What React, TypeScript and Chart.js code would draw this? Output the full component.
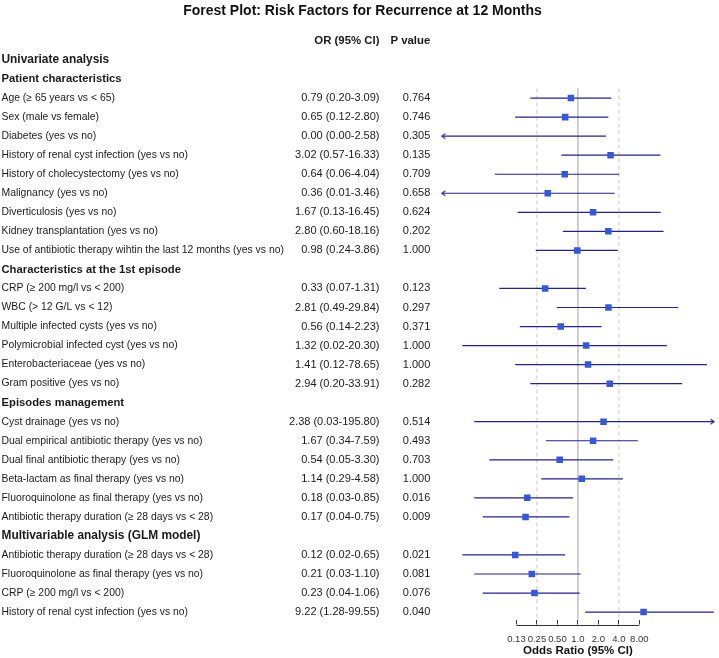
import { useEffect, useRef } from "react";
import { Chart, registerables } from "chart.js";

Chart.register(...registerables);

const TITLE = "Forest Plot: Risk Factors for Recurrence at 12 Months";
const X_TITLE = "Odds Ratio (95% CI)";
const COLUMN_HEADERS = ["OR (95% CI)", "P value"];

const ROW_LABELS = [
  "Univariate analysis",
  "Patient characteristics",
  "Age (≥ 65 years vs < 65)",
  "Sex (male vs female)",
  "Diabetes (yes vs no)",
  "History of renal cyst infection (yes vs no)",
  "History of cholecystectomy (yes vs no)",
  "Malignancy (yes vs no)",
  "Diverticulosis (yes vs no)",
  "Kidney transplantation (yes vs no)",
  "Use of antibiotic therapy wihtin the last 12 months (yes vs no)",
  "Characteristics at the 1st episode",
  "CRP (≥ 200 mg/l vs < 200)",
  "WBC (> 12 G/L vs < 12)",
  "Multiple infected cysts (yes vs no)",
  "Polymicrobial infected cyst (yes vs no)",
  "Enterobacteriaceae (yes vs no)",
  "Gram positive (yes vs no)",
  "Episodes management",
  "Cyst drainage (yes vs no)",
  "Dual empirical antibiotic therapy (yes vs no)",
  "Dual final antibiotic therapy (yes vs no)",
  "Beta-lactam as final therapy (yes vs no)",
  "Fluoroquinolone as final therapy (yes vs no)",
  "Antibiotic therapy duration (≥ 28 days vs < 28)",
  "Multivariable analysis (GLM model)",
  "Antibiotic therapy duration (≥ 28 days vs < 28)",
  "Fluoroquinolone as final therapy (yes vs no)",
  "CRP (≥ 200 mg/l vs < 200)",
  "History of renal cyst infection (yes vs no)",
];

// 0 = regular row, 1 = top-level section, 2 = sub-section
const ROW_LEVEL = [
  1, 2, 0, 0, 0, 0, 0, 0, 0, 0, 0,
  2, 0, 0, 0, 0, 0, 0,
  2, 0, 0, 0, 0, 0, 0,
  1, 0, 0, 0, 0,
];

// null = section header row
const ODDS_RATIOS: (number | null)[] = [
  null, null,
  0.79, 0.65, 0.0, 3.02, 0.64, 0.36, 1.67, 2.8, 0.98,
  null,
  0.33, 2.81, 0.56, 1.32, 1.41, 2.94,
  null,
  2.38, 1.67, 0.54, 1.14, 0.18, 0.17,
  null,
  0.12, 0.21, 0.23, 9.22,
];
const CI_LOWER: (number | null)[] = [
  null, null,
  0.2, 0.12, 0.0, 0.57, 0.06, 0.01, 0.13, 0.6, 0.24,
  null,
  0.07, 0.49, 0.14, 0.02, 0.12, 0.2,
  null,
  0.03, 0.34, 0.05, 0.29, 0.03, 0.04,
  null,
  0.02, 0.03, 0.04, 1.28,
];
const CI_UPPER: (number | null)[] = [
  null, null,
  3.09, 2.8, 2.58, 16.33, 4.04, 3.46, 16.45, 18.16, 3.86,
  null,
  1.31, 29.84, 2.23, 20.3, 78.65, 33.91,
  null,
  195.8, 7.59, 3.3, 4.58, 0.85, 0.75,
  null,
  0.65, 1.1, 1.06, 99.55,
];
const P_VALUES: (number | null)[] = [
  null, null,
  0.764, 0.746, 0.305, 0.135, 0.709, 0.658, 0.624, 0.202, 1.0,
  null,
  0.123, 0.297, 0.371, 1.0, 1.0, 0.282,
  null,
  0.514, 0.493, 0.703, 1.0, 0.016, 0.009,
  null,
  0.021, 0.081, 0.076, 0.04,
];

const TICK_VALUES = [0.125, 0.25, 0.5, 1, 2, 4, 8];
const TICK_LABELS = ["0.13", "0.25", "0.50", "1.0", "2.0", "4.0", "8.00"];
const REFERENCE_SOLID = [1];
const REFERENCE_DASHED = [0.25, 4];
const X_MIN = 0.01;
const X_MAX = 100;

// layout constants
const W = 719;
const H = 658;
const FONT = "'Liberation Sans', Arial, Helvetica, sans-serif";
const TEXT_COLOR = "#1a1a1a";
const BOX_COLOR = "#3457DC";
const CI_COLOR = "#23238C";
const REF_COLOR = "#c8c8c8";
const AXIS_COLOR = "#333333";
const LABEL_X = 1.5;
const OR_COL_X = 379.5;
const P_COL_X = 430.3;
const Y_AXIS_WIDTH = 433.6;
const X_AXIS_HEIGHT = 38.5;
const TICK_LEN = 5;
const Y_MIN = -1.06;
const Y_MAX = 30.39;
const REF_TOP = 2.5;

const LEVEL_FONT = [`10.4px ${FONT}`, `bold 11.9px ${FONT}`, `bold 11.25px ${FONT}`];

const fmt2 = (v: number) => v.toFixed(2);

function makeArrowImage(): HTMLCanvasElement {
  const c = document.createElement("canvas");
  c.width = 10;
  c.height = 9;
  const g = c.getContext("2d")!;
  g.strokeStyle = CI_COLOR;
  g.lineWidth = 1.1;
  g.beginPath();
  g.moveTo(8.5, 2);
  g.lineTo(5, 4.5);
  g.lineTo(8.5, 7);
  g.stroke();
  return c;
}

const tablePlugin = {
  id: "forestTable",
  afterDraw(chart: any) {
    const ctx = chart.ctx as CanvasRenderingContext2D;
    const ys = chart.scales.y;
    const xs = chart.scales.x;
    ctx.save();
    ctx.textBaseline = "middle";
    ctx.fillStyle = TEXT_COLOR;

    ctx.font = `bold 11.4px ${FONT}`;
    ctx.textAlign = "right";
    const hy = ys.getPixelForValue(0);
    ctx.fillText(COLUMN_HEADERS[0], OR_COL_X, hy);
    ctx.fillText(COLUMN_HEADERS[1], P_COL_X, hy);

    ROW_LABELS.forEach((label, k) => {
      const py = ys.getPixelForValue(k + 1);
      const or = ODDS_RATIOS[k];
      ctx.textAlign = "left";
      ctx.font = LEVEL_FONT[ROW_LEVEL[k]];
      ctx.fillText(label, LABEL_X, py);
      if (or !== null) {
        ctx.textAlign = "right";
        ctx.font = `11px ${FONT}`;
        const txt = `${fmt2(or)} (${fmt2(CI_LOWER[k] as number)}-${fmt2(CI_UPPER[k] as number)})`;
        ctx.fillText(txt, OR_COL_X, py);
        ctx.fillText((P_VALUES[k] as number).toFixed(3), P_COL_X, py);
      }
    });

    // x axis line spanning the tick range
    const ay = Math.round(chart.chartArea.bottom + TICK_LEN) + 0.5;
    ctx.strokeStyle = AXIS_COLOR;
    ctx.lineWidth = 1;
    ctx.beginPath();
    ctx.moveTo(xs.getPixelForValue(TICK_VALUES[0]), ay);
    ctx.lineTo(xs.getPixelForValue(TICK_VALUES[TICK_VALUES.length - 1]), ay);
    ctx.stroke();
    ctx.restore();
  },
};

export default function App() {
  const canvasRef = useRef<HTMLCanvasElement | null>(null);

  useEffect(() => {
    const canvas = canvasRef.current;
    if (!canvas) return;
    const arrow = makeArrowImage();

    const boxes: any[] = [];
    const ciSegments: any[] = [];
    const leftArrows: any[] = [];
    const rightArrows: any[] = [];
    ODDS_RATIOS.forEach((or, k) => {
      if (or === null) return;
      const row = k + 1;
      const lo = CI_LOWER[k] as number;
      const hi = CI_UPPER[k] as number;
      if (or > 0) boxes.push({ x: or, y: row });
      ciSegments.push({ x: Math.max(lo, X_MIN), y: row });
      ciSegments.push({ x: Math.min(hi, X_MAX), y: row });
      ciSegments.push({ x: NaN, y: NaN });
      if (lo <= X_MIN) leftArrows.push({ x: X_MIN, y: row });
      if (hi >= X_MAX) rightArrows.push({ x: X_MAX, y: row });
    });

    const refLine = (vals: number[]) => {
      const out: any[] = [];
      vals.forEach((v) => {
        out.push({ x: v, y: REF_TOP });
        out.push({ x: v, y: Y_MAX });
        out.push({ x: NaN, y: NaN });
      });
      return out;
    };

    Chart.defaults.font.family = FONT;

    const chart = new Chart(canvas, {
      type: "scatter",
      data: {
        datasets: [
          {
            label: "OR",
            data: boxes,
            pointStyle: "rect",
            pointRadius: 4.6,
            pointBackgroundColor: BOX_COLOR,
            pointBorderColor: BOX_COLOR,
            pointBorderWidth: 0,
            showLine: false,
          },
          {
            label: "left arrows",
            data: leftArrows,
            pointStyle: arrow,
            rotation: 0,
            showLine: false,
            clip: false,
          },
          {
            label: "right arrows",
            data: rightArrows,
            pointStyle: arrow,
            rotation: 180,
            showLine: false,
            clip: false,
          },
          {
            label: "CI",
            data: ciSegments,
            showLine: true,
            spanGaps: false,
            borderColor: CI_COLOR,
            borderWidth: 1.2,
            pointRadius: 0,
          },
          {
            label: "ref solid",
            data: refLine(REFERENCE_SOLID),
            showLine: true,
            spanGaps: false,
            borderColor: REF_COLOR,
            borderWidth: 1,
            pointRadius: 0,
          },
          {
            label: "ref dashed",
            data: refLine(REFERENCE_DASHED),
            showLine: true,
            spanGaps: false,
            borderColor: REF_COLOR,
            borderWidth: 1,
            borderDash: [4, 3],
            pointRadius: 0,
          },
        ] as any,
      },
      options: {
        responsive: false,
        animation: false,
        events: [],
        layout: { padding: { left: 8.2, right: 2.2, top: 0, bottom: 0 } },
        plugins: {
          legend: { display: false },
          tooltip: { enabled: false },
          title: {
            display: true,
            text: TITLE,
            color: "#111111",
            font: { size: 14, weight: "bold", family: FONT },
            padding: { top: 3, bottom: 1 },
          },
        },
        scales: {
          x: {
            type: "logarithmic",
            position: "bottom",
            min: X_MIN,
            max: X_MAX,
            bounds: "data",
            afterBuildTicks: (scale: any) => {
              scale.ticks = TICK_VALUES.map((value) => ({ value }));
            },
            afterFit: (scale: any) => {
              scale.height = X_AXIS_HEIGHT;
            },
            border: { display: false },
            grid: {
              display: true,
              drawOnChartArea: false,
              drawTicks: true,
              tickLength: TICK_LEN,
              color: AXIS_COLOR,
              lineWidth: 1,
            },
            ticks: {
              autoSkip: false,
              maxRotation: 0,
              minRotation: 0,
              padding: 9,
              color: "#333333",
              font: { size: 9.5, family: FONT },
              callback: (_v: any, i: number) => TICK_LABELS[i] ?? "",
            },
            title: {
              display: true,
              text: X_TITLE,
              color: "#111111",
              font: { size: 11.5, weight: "bold", family: FONT },
              padding: { top: 0, bottom: 0 },
            },
          } as any,
          y: {
            type: "linear",
            min: Y_MIN,
            max: Y_MAX,
            reverse: true,
            bounds: "data",
            display: true,
            afterFit: (scale: any) => {
              scale.width = Y_AXIS_WIDTH;
            },
            grid: { display: false },
            border: { display: false },
            ticks: { display: false },
          } as any,
        },
      },
      plugins: [tablePlugin],
    });

    return () => chart.destroy();
  }, []);

  return (
    <div style={{ position: "fixed", left: 0, top: 0, width: W, height: H, background: "#ffffff" }}>
      <canvas ref={canvasRef} width={W} height={H} style={{ display: "block", width: W, height: H }} />
    </div>
  );
}
